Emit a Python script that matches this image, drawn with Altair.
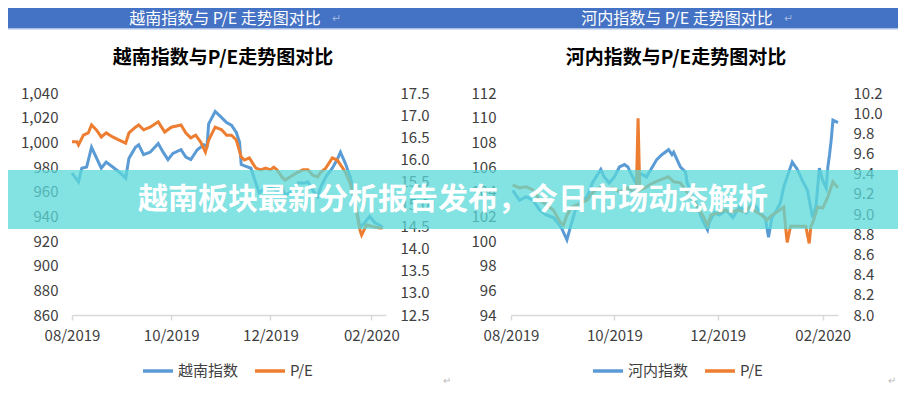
import altair as alt
import pandas as pd

VN_NAME = "越南指数"
HN_NAME = "河内指数"
PE_NAME = "P/E"

# ---- Vietnam index (left panel) ----
vn_idx_dates = ["2019-08-01", "2019-08-05", "2019-08-07", "2019-08-10", "2019-08-13", "2019-08-19",
                "2019-08-22", "2019-08-26", "2019-08-30", "2019-09-03", "2019-09-05", "2019-09-09",
                "2019-09-11", "2019-09-14", "2019-09-18", "2019-09-23", "2019-09-26", "2019-09-29",
                "2019-10-02", "2019-10-07", "2019-10-10", "2019-10-13", "2019-10-17", "2019-10-21",
                "2019-10-23", "2019-10-24", "2019-10-28", "2019-11-01", "2019-11-04", "2019-11-07",
                "2019-11-10", "2019-11-12", "2019-11-13", "2019-11-19", "2019-11-22", "2019-11-24",
                "2019-11-28", "2019-12-02", "2019-12-05", "2019-12-08", "2019-12-10", "2019-12-14",
                "2019-12-18", "2019-12-22", "2019-12-24", "2019-12-27", "2019-12-30", "2020-01-01",
                "2020-01-04", "2020-01-08", "2020-01-11", "2020-01-13", "2020-01-16", "2020-01-19",
                "2020-01-21", "2020-01-23", "2020-01-25", "2020-01-28", "2020-01-31", "2020-02-03",
                "2020-02-06", "2020-02-08"]
vn_idx_vals = [975, 968, 979, 980, 996, 979,
               984, 980, 976, 971, 987, 996,
               998, 990, 992, 999, 992, 986,
               991, 994, 988, 986, 994, 998,
               997, 1015, 1025, 1020, 1016, 1014,
               1008, 1000, 982, 979, 967, 959,
               963, 964, 960, 964, 957, 960,
               967, 967, 968, 961, 956, 964,
               972, 979, 986, 992, 983, 972,
               961, 945, 931, 935, 940, 935,
               933, 931]

vn_pe_dates = ["2019-08-01", "2019-08-04", "2019-08-05", "2019-08-08", "2019-08-11", "2019-08-13",
               "2019-08-16", "2019-08-19", "2019-08-22", "2019-08-26", "2019-08-30", "2019-09-03",
               "2019-09-05", "2019-09-09", "2019-09-11", "2019-09-14", "2019-09-18", "2019-09-23",
               "2019-09-27", "2019-10-01", "2019-10-07", "2019-10-10", "2019-10-13", "2019-10-16",
               "2019-10-19", "2019-10-22", "2019-10-24", "2019-10-28", "2019-11-01", "2019-11-04",
               "2019-11-07", "2019-11-10", "2019-11-13", "2019-11-15", "2019-11-18", "2019-11-20",
               "2019-11-22", "2019-11-25", "2019-11-28", "2019-12-01", "2019-12-03", "2019-12-05",
               "2019-12-08", "2019-12-10", "2019-12-13", "2019-12-17", "2019-12-21", "2019-12-24",
               "2019-12-27", "2019-12-30", "2020-01-01", "2020-01-04", "2020-01-08", "2020-01-11",
               "2020-01-14", "2020-01-16", "2020-01-19", "2020-01-21", "2020-01-23", "2020-01-25",
               "2020-01-26", "2020-01-29", "2020-02-03", "2020-02-06", "2020-02-08"]
vn_pe_vals = [16.40, 16.40, 16.33, 16.55, 16.60, 16.78,
              16.67, 16.51, 16.60, 16.51, 16.44, 16.37,
              16.60, 16.73, 16.78, 16.67, 16.73, 16.85,
              16.62, 16.73, 16.78, 16.60, 16.49, 16.55,
              16.40, 16.17, 16.44, 16.73, 16.67, 16.55,
              16.55, 16.44, 16.06, 15.99, 16.04, 15.92,
              15.81, 15.77, 15.81, 15.77, 15.83, 15.77,
              15.61, 15.54, 15.61, 15.70, 15.77, 15.77,
              15.65, 15.61, 15.72, 15.81, 16.04, 15.99,
              15.83, 15.72, 15.47, 15.16, 14.80, 14.41,
              14.30, 14.53, 14.48, 14.46, 14.46]

# ---- Hanoi index (right panel) ----
hn_idx_dates = ["2019-08-02", "2019-08-06", "2019-08-10", "2019-08-14", "2019-08-18", "2019-08-22",
                "2019-08-26", "2019-08-29", "2019-08-31", "2019-09-03", "2019-09-05", "2019-09-08",
                "2019-09-11", "2019-09-15", "2019-09-18", "2019-09-23", "2019-09-25", "2019-09-28",
                "2019-10-01", "2019-10-04", "2019-10-07", "2019-10-09", "2019-10-11", "2019-10-13",
                "2019-10-16", "2019-10-20", "2019-10-23", "2019-10-26", "2019-10-29", "2019-11-02",
                "2019-11-04", "2019-11-05", "2019-11-07", "2019-11-09", "2019-11-12", "2019-11-13",
                "2019-11-16", "2019-11-19", "2019-11-22", "2019-11-25", "2019-11-26", "2019-11-29",
                "2019-12-02", "2019-12-06", "2019-12-10", "2019-12-14", "2019-12-18", "2019-12-22",
                "2019-12-26", "2019-12-29", "2019-12-31", "2020-01-02", "2020-01-04", "2020-01-07",
                "2020-01-09", "2020-01-11", "2020-01-14", "2020-01-17", "2020-01-20", "2020-01-23",
                "2020-01-26", "2020-01-28", "2020-01-30", "2020-02-01", "2020-02-03", "2020-02-04",
                "2020-02-05", "2020-02-06", "2020-02-07", "2020-02-10"]
hn_idx_vals = [104.1, 103.3, 103.6, 103.3, 102.5, 102.1,
               101.9, 101.4, 101.0, 100.1, 101.1, 102.5,
               103.1, 103.6, 104.7, 105.8, 105.2, 104.7,
               105.2, 106.0, 106.2, 106.0, 105.4, 104.9,
               105.5, 105.2, 105.9, 106.6, 107.0, 107.4,
               107.0, 107.2, 106.6, 106.0, 105.6, 104.7,
               103.6, 102.8, 101.7, 100.9, 101.5, 102.3,
               102.1, 102.5, 101.9, 102.8, 102.3, 103.1,
               102.3, 101.9, 100.3, 101.9, 102.3, 103.1,
               104.4, 105.2, 106.4, 105.8, 104.9, 104.1,
               101.9, 102.8, 105.9, 104.9, 104.3, 106.0,
               107.0, 108.2, 109.8, 109.6]

hn_pe_dates = ["2019-08-02", "2019-08-06", "2019-08-10", "2019-08-14", "2019-08-18", "2019-08-22",
               "2019-08-26", "2019-08-30", "2019-09-01", "2019-09-03", "2019-09-06", "2019-09-11",
               "2019-09-15", "2019-09-18", "2019-09-23", "2019-09-26", "2019-09-30", "2019-10-04",
               "2019-10-09", "2019-10-12", "2019-10-14", "2019-10-15", "2019-10-16", "2019-10-20",
               "2019-10-24", "2019-10-28", "2019-11-02", "2019-11-05", "2019-11-09", "2019-11-12",
               "2019-11-16", "2019-11-19", "2019-11-22", "2019-11-25", "2019-11-27", "2019-12-01",
               "2019-12-05", "2019-12-09", "2019-12-13", "2019-12-17", "2019-12-20", "2019-12-24",
               "2019-12-27", "2019-12-30", "2020-01-02", "2020-01-05", "2020-01-09", "2020-01-10",
               "2020-01-11", "2020-01-13", "2020-01-22", "2020-01-24", "2020-01-25", "2020-01-26",
               "2020-01-29", "2020-02-01", "2020-02-04", "2020-02-07", "2020-02-10"]
hn_pe_vals = [9.29, 9.26, 9.27, 9.24, 9.14, 9.09,
              9.04, 8.92, 8.89, 8.99, 9.07, 9.11,
              9.14, 9.21, 9.27, 9.24, 9.26, 9.22,
              9.26, 9.22, 9.25, 9.95, 9.24, 9.27,
              9.31, 9.34, 9.37, 9.32, 9.31, 9.24,
              9.14, 9.07, 8.99, 8.89, 8.99, 9.01,
              9.04, 9.02, 9.04, 9.02, 9.07, 9.02,
              8.99, 8.94, 8.99, 9.02, 9.07, 8.88,
              8.72, 8.88, 8.88, 8.71, 8.88, 8.91,
              9.07, 9.06, 9.17, 9.32, 9.26]

vn_left_ticks = [860, 880, 900, 920, 940, 960, 980, 1000, 1020, 1040]
vn_right_ticks = [12.5, 13.0, 13.5, 14.0, 14.5, 15.0, 15.5, 16.0, 16.5, 17.0, 17.5]
hn_left_ticks = [94, 96, 98, 100, 102, 104, 106, 108, 110, 112]
hn_right_ticks = [8.0, 8.2, 8.4, 8.6, 8.8, 9.0, 9.2, 9.4, 9.6, 9.8, 10.0, 10.2]

header_left = "越南指数与 P/E 走势图对比"
header_right = "河内指数与 P/E 走势图对比"
title_left = "越南指数与P/E走势图对比"
title_right = "河内指数与P/E走势图对比"
banner_text = "越南板块最新分析报告发布，今日市场动态解析"

BLUE = "#5b9bd5"
ORANGE = "#ed7d31"
TXT = "#404040"
FONT = "Noto Sans CJK SC"
HEADER_BLUE = "#4472c4"
BANNER = "#5ad8d8"

X_DOMAIN = [alt.DateTime(year=2019, month=8, date=1, utc=True),
            alt.DateTime(year=2020, month=2, date=10, utc=True)]
X_TICKS = [alt.DateTime(year=2019, month=8, date=1, utc=True),
           alt.DateTime(year=2019, month=10, date=1, utc=True),
           alt.DateTime(year=2019, month=12, date=1, utc=True),
           alt.DateTime(year=2020, month=2, date=1, utc=True)]


def x_enc():
    return alt.X("date:T",
                 scale=alt.Scale(type="utc", domain=X_DOMAIN, nice=False),
                 axis=alt.Axis(values=X_TICKS, labelExpr="utcFormat(datum.value, '%m/%Y')",
                               title=None, grid=False, domainColor="#d9d9d9", domainWidth=1.5,
                               tickColor="#d9d9d9", tickWidth=1.5, tickSize=5, labelPadding=8,
                               labelFontSize=15, labelColor=TXT, labelFont=FONT,
                               labelFlush=False, labelOverlap=False))


def y_axis(orient, ticks, fmt, pad):
    return alt.Axis(orient=orient, values=ticks, format=fmt, title=None, grid=False,
                    domain=False, ticks=False, labelPadding=pad, labelFontSize=15,
                    labelColor=TXT, labelFont=FONT, labelOverlap=False)


def lines(name, idx_dates, idx_vals, pe_dates, pe_vals, ydom, yticks, yfmt,
          pedom, peticks, legend_x, lpad, rpad):
    color = alt.Color("series:N",
                      scale=alt.Scale(domain=[name, PE_NAME], range=[BLUE, ORANGE]),
                      legend=alt.Legend(orient="none", legendX=legend_x, legendY=261,
                                        direction="horizontal", title=None,
                                        symbolType="stroke", symbolStrokeWidth=3.5,
                                        symbolSize=900, labelFontSize=15, labelColor=TXT,
                                        labelFont=FONT, columnPadding=9, labelOffset=3,
                                        padding=0))
    idx_df = pd.DataFrame({"date": idx_dates, "value": idx_vals, "series": name})
    pe_df = pd.DataFrame({"date": pe_dates, "value": pe_vals, "series": PE_NAME})
    l1 = alt.Chart(idx_df).mark_line(strokeWidth=3).encode(
        x=x_enc(),
        y=alt.Y("value:Q", scale=alt.Scale(domain=ydom, nice=False, zero=False),
                axis=y_axis("left", yticks, yfmt, lpad)),
        color=color)
    l2 = alt.Chart(pe_df).mark_line(strokeWidth=3).encode(
        x=x_enc(),
        y=alt.Y("value:Q", scale=alt.Scale(domain=pedom, nice=False, zero=False),
                axis=y_axis("right", peticks, ".1f", rpad)),
        color=color)
    return l1, l2


def rect(x, x2, y, y2, color, opacity=1.0):
    return alt.Chart(pd.DataFrame({"k": [0]})).mark_rect(color=color, opacity=opacity).encode(
        x=alt.value(x), x2=alt.value(x2), y=alt.value(y), y2=alt.value(y2))


def label(txt, x, y, size, color, weight="normal", align="center"):
    return alt.Chart(pd.DataFrame({"t": [txt]})).mark_text(
        fontSize=size, color=color, fontWeight=weight, font=FONT, align=align,
        baseline="middle").encode(x=alt.value(x), y=alt.value(y), text="t:N")


W_L, W_R, H = 314, 327, 222

l1, l2 = lines(VN_NAME, vn_idx_dates, vn_idx_vals, vn_pe_dates, vn_pe_vals,
               [860, 1040], vn_left_ticks, ",.0f", [12.5, 17.5], vn_right_ticks, 69, 14, 14)
left = alt.layer(
    rect(-64, 826, -85, -65, HEADER_BLUE),
    rect(-64, 826, -65, -63.5, "#a9bfe3"),
    label(header_left, 153, -74.5, 16, "white"),
    label("↵", 260, -74.5, 11, "#9fb4dc", align="left"),
    label(title_left, 151, -35, 19, "black", "bold"),
    l1, l2,
    rect(-64, 376, 77, 136, BANNER, 0.75),
    label("↵", 375, 288, 10, "#bbbbbb"),
).resolve_scale(y="independent").properties(width=W_L, height=H)

r1, r2 = lines(HN_NAME, hn_idx_dates, hn_idx_vals, hn_pe_dates, hn_pe_vals,
               [94, 112], hn_left_ticks, ".0f", [8.0, 10.2], hn_right_ticks, 80, 15, 15)
right = alt.layer(
    label(header_right, 166, -74.5, 16, "white"),
    label("↵", 273, -74.5, 11, "#9fb4dc", align="left"),
    label(title_right, 165, -35, 19, "black", "bold"),
    r1, r2,
    rect(-63, 387, 77, 136, BANNER, 0.75),
    label(banner_text, -58, 107, 30, "white", "bold"),
    label("↵", 381, 288, 10, "#bbbbbb"),
).resolve_scale(y="independent").properties(width=W_R, height=H)

chart = alt.hconcat(left, right, spacing=125, bounds="flush").resolve_scale(
    color="independent").properties(padding=0).configure_view(stroke=None)

chart.save("out.html", embed_options={"renderer": "svg", "actions": False})
